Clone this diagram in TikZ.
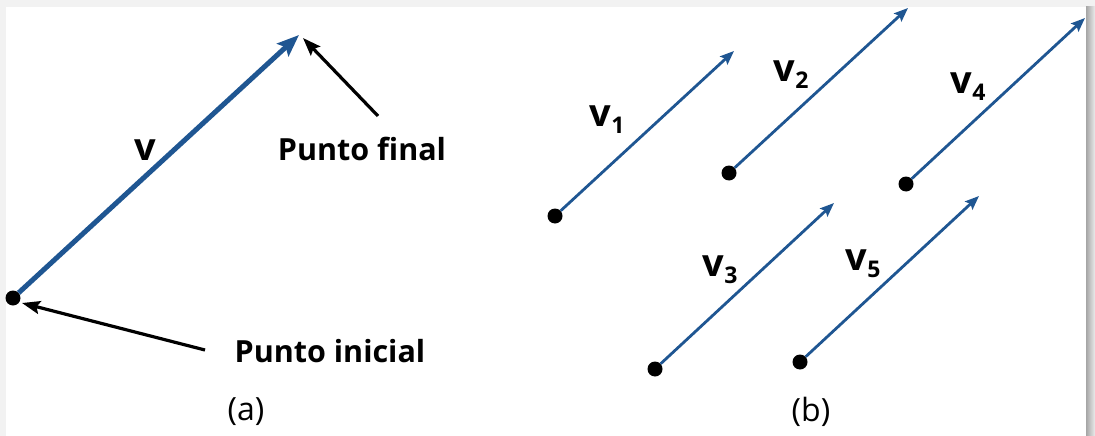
\documentclass[tikz,border=0pt]{standalone}
\usepackage{fontspec}
\setmainfont{Open Sans}
\usetikzlibrary{arrows.meta}
\definecolor{vblue}{RGB}{31,86,146}
\tikzset{
  dotnode/.style={circle,fill=black,inner sep=0pt,minimum size=15pt},
  bigvec/.style={vblue,line width=5pt,-{Stealth[length=22pt,width=17pt,inset=4pt]}},
  smallvec/.style={vblue,line width=2.8pt,-{Stealth[length=14pt,width=11pt,inset=2.5pt]}},
  pointer/.style={black,line width=3.2pt,-{Stealth[length=18pt,width=13pt,inset=3pt]}},
  boldlbl/.style={font=\fontsize{30.5}{33}\selectfont\bfseries,inner sep=0pt},
  vlbl/.style={font=\fontsize{38}{40}\selectfont\bfseries,inner sep=0pt},
  caplbl/.style={font=\fontsize{32}{36}\selectfont,inner sep=0pt}
}
\newcommand{\vsub}[1]{v\raisebox{-7pt}{\fontsize{23}{25}\selectfont\bfseries #1}}
\begin{document}
\begin{tikzpicture}[x=1pt,y=-1pt]
\useasboundingbox (0,0) rectangle (1095,436);
% frame
\fill[gray!10] (0,0) rectangle (1095,436);
\fill[white] (6,7) rectangle (1086,436);
\shade[left color=gray!70,right color=gray!15] (1086,7) rectangle (1095,436);
% (a)
\node[dotnode] (a0) at (13,298) {};
\coordinate (a1) at (299,35);
\draw[bigvec] (a0) -- (a1);
\node[vlbl] (av) at (145,150) {v};
\node[boldlbl] (pf) at (362,149) {Punto final};
\node[boldlbl] (pi) at (330,351) {Punto inicial};
\coordinate (pfs) at (378,116);
\coordinate (pfe) at (303,38);
\draw[pointer] (pfs) -- (pfe);
\coordinate (pis) at (205,350);
\coordinate (pie) at (22,303);
\draw[pointer] (pis) -- (pie);
\node[caplbl] (ca) at (246,412) {(a)};
% (b)
\node[dotnode] (b1) at (555,216) {};
\coordinate (t1) at (734,51);
\draw[smallvec] (b1) -- (t1);
\node[dotnode] (b2) at (729,173) {};
\coordinate (t2) at (908,8);
\draw[smallvec] (b2) -- (t2);
\node[dotnode] (b4) at (906,184) {};
\coordinate (t4) at (1085,18);
\draw[smallvec] (b4) -- (t4);
\node[dotnode] (b3) at (655,369) {};
\coordinate (t3) at (834,203);
\draw[smallvec] (b3) -- (t3);
\node[dotnode] (b5) at (800,362) {};
\coordinate (t5) at (979,196);
\draw[smallvec] (b5) -- (t5);
\node[vlbl] (l1) at (607,120) {\vsub{1}};
\node[vlbl] (l2) at (791,75) {\vsub{2}};
\node[vlbl] (l4) at (968,87) {\vsub{4}};
\node[vlbl] (l3) at (720,270) {\vsub{3}};
\node[vlbl] (l5) at (863,264) {\vsub{5}};
\node[caplbl] (cb) at (811,412) {(b)};
\end{tikzpicture}
\end{document}
